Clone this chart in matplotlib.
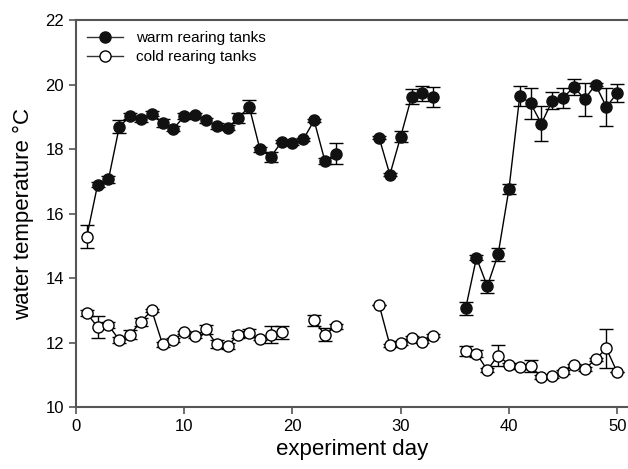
import numpy as np
import matplotlib
matplotlib.use("Agg")
import matplotlib.pyplot as plt

plt.rcParams['font.family'] = ['Liberation Sans', 'DejaVu Sans']

# warm rearing tanks (day 1 is shown as an open circle)
warm_days = [1, 2, 3, 4, 5, 6, 7, 8, 9, 10, 11, 12, 13, 14, 15, 16, 17, 18, 19, 20, 21, 22, 23, 24,
             28, 29, 30, 31, 32, 33,
             36, 37, 38, 39, 40, 41, 42, 43, 44, 45, 46, 47, 48, 49, 50]
warm_temp = [15.29, 16.9, 17.06, 18.69, 19.03, 18.93, 19.1, 18.82, 18.63, 19.02, 19.05, 18.9,
             18.72, 18.66, 18.96, 19.32, 17.99, 17.76, 18.23, 18.19, 18.3, 18.89, 17.63, 17.86,
             18.36, 17.21, 18.39, 19.62, 19.73, 19.62,
             13.06, 14.63, 13.75, 14.74, 16.76, 19.65, 19.42, 18.79, 19.5, 19.59, 19.93, 19.55,
             20.0, 19.31, 19.74]
warm_err = [0.35, 0.08, 0.12, 0.2, 0.1, 0.08, 0.08, 0.12, 0.08, 0.1, 0.08, 0.08,
            0.08, 0.08, 0.15, 0.2, 0.08, 0.15, 0.05, 0.05, 0.05, 0.05, 0.08, 0.32,
            0.05, 0.05, 0.17, 0.23, 0.23, 0.32,
            0.2, 0.08, 0.2, 0.2, 0.15, 0.3, 0.49, 0.55, 0.26, 0.3, 0.24, 0.51,
            0.05, 0.58, 0.29]

# cold rearing tanks
cold_days = [1, 2, 3, 4, 5, 6, 7, 8, 9, 10, 11, 12, 13, 14, 15, 16, 17, 18, 19,
             22, 23, 24,
             28, 29, 30, 31, 32, 33,
             36, 37, 38, 39, 40, 41, 42, 43, 44, 45, 46, 47, 48, 49, 50]
cold_temp = [12.91, 12.48, 12.54, 12.08, 12.25, 12.65, 13.0, 11.95, 12.08, 12.32, 12.19, 12.41,
             11.95, 11.89, 12.25, 12.29, 12.12, 12.25, 12.32,
             12.69, 12.24, 12.51,
             13.18, 11.92, 11.99, 12.15, 12.03, 12.21,
             11.75, 11.66, 11.15, 11.6, 11.32, 11.24, 11.27, 10.93, 10.95, 11.09, 11.29, 11.18,
             11.48, 11.82, 11.08]
cold_err = [0.1, 0.34, 0.1, 0.08, 0.15, 0.12, 0.05, 0.08, 0.05, 0.05, 0.05, 0.15,
            0.12, 0.1, 0.1, 0.12, 0.05, 0.25, 0.2,
            0.17, 0.2, 0.08,
            0.0, 0.05, 0.05, 0.05, 0.05, 0.05,
            0.15, 0.1, 0.05, 0.33, 0.05, 0.05, 0.18, 0.05, 0.05, 0.05, 0.05, 0.05,
            0.05, 0.6, 0.0]


# put nan where days are missing so the line breaks
def with_gaps(days, vals):
    d = np.array(days, dtype=float)
    v = np.array(vals, dtype=float)
    brk = np.where(np.diff(d) > 1)[0] + 1
    d = np.insert(d, brk, np.nan)
    v = np.insert(v, brk, np.nan)
    return d, v


def main():
    fig = plt.figure(figsize=(6.28, 4.69), dpi=100)
    ax = fig.add_axes([0.121, 0.132, 0.879, 0.825])

    grey = '#555555'
    eb = dict(ecolor='black', elinewidth=1.0, capsize=5, capthick=1.0, linestyle='none')

    # lines
    d, v = with_gaps(warm_days, warm_temp)
    ax.plot(d, v, color='black', lw=1.0, zorder=2)
    d, v = with_gaps(cold_days, cold_temp)
    ax.plot(d, v, color='black', lw=1.0, zorder=2)

    # error bars + markers
    ax.errorbar(warm_days[1:], warm_temp[1:], yerr=warm_err[1:], fmt='o', ms=8,
                mfc='#111111', mec='#111111', zorder=3, **eb)
    ax.errorbar(warm_days[:1], warm_temp[:1], yerr=warm_err[:1], fmt='o', ms=8,
                mfc='white', mec='black', mew=1.0, zorder=3, **eb)
    ax.errorbar(cold_days, cold_temp, yerr=cold_err, fmt='o', ms=8,
                mfc='white', mec='black', mew=1.0, zorder=3, **eb)

    # legend handles
    h1, = ax.plot([], [], color='#333333', lw=1.0, marker='o', ms=8, mfc='#111111', mec='#111111')
    h2, = ax.plot([], [], color='#333333', lw=1.0, marker='o', ms=8, mfc='white', mec='black')
    ax.legend([h1, h2], ['warm rearing tanks', 'cold rearing tanks'], loc='upper left',
              frameon=False, fontsize=11, handlelength=2.4, handletextpad=0.8,
              borderaxespad=0.3, labelspacing=0.35)

    ax.set_xlim(0, 51)
    ax.set_ylim(10, 22)
    ax.set_xticks([0, 10, 20, 30, 40, 50])
    ax.set_yticks([10, 12, 14, 16, 18, 20, 22])
    ax.tick_params(direction='out', length=5, width=1.2, color=grey, labelsize=12)
    for s in ['left', 'bottom', 'top']:
        ax.spines[s].set_color(grey)
        ax.spines[s].set_linewidth(1.5)
    ax.spines['right'].set_visible(False)

    ax.set_xlabel('experiment day', fontsize=16, labelpad=4)
    ax.set_ylabel('water temperature \u00b0C', fontsize=16, labelpad=8)

    fig.savefig('out.png', dpi=100)


if __name__ == "__main__":
    main()
